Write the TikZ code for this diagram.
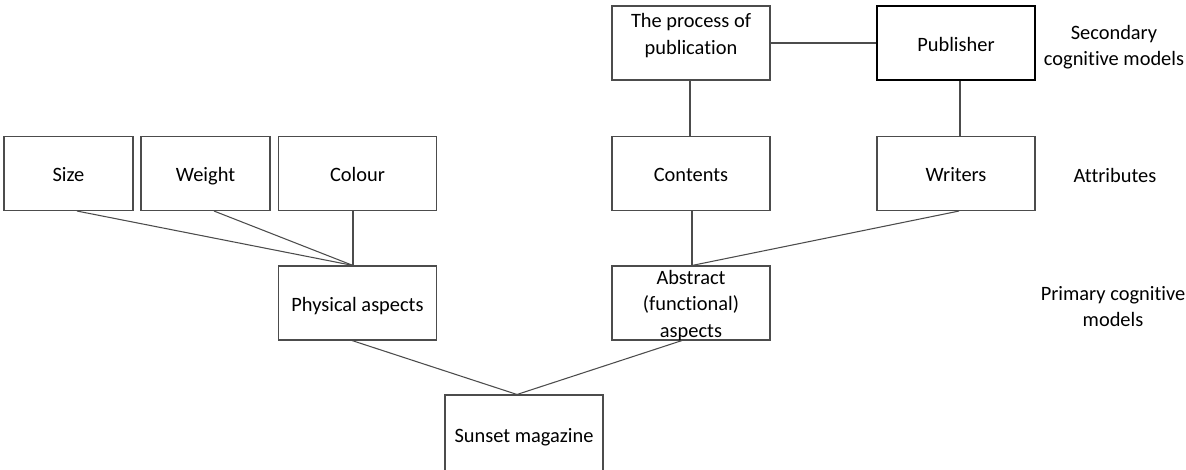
\documentclass[tikz,border=0pt]{standalone}
\usepackage{fontspec}
\setmainfont[Ligatures=NoCommon]{Carlito}
\begin{document}
\begin{tikzpicture}[x=0.75pt,y=-0.75pt,
  box/.style={draw=black!70,line width=0.8pt,rectangle,minimum height=55.5pt,inner sep=0pt,align=center,font=\fontsize{15.3}{19.8}\selectfont},
  one/.style={text height=14.5pt,text depth=2.4pt},
  narrow/.style={box,one,minimum width=96.75pt},
  wide/.style={box,minimum width=118.5pt},
  thick/.style={draw=black,line width=1.6pt},
  txt/.style={align=center,inner sep=0pt,font=\fontsize{15.3}{19.8}\selectfont},
  link/.style={draw=black!70,line width=0.8pt}]
\useasboundingbox (0,0) rectangle (1186,469);
\node[narrow] (size) at (68.5,173.5) {Size};
\node[narrow] (weight) at (205.5,173.5) {Weight};
\node[wide,one] (colour) at (357.5,173.5) {Colour};
\node[wide] (proc) at (691,43) {};
\node[txt] (proctxt) at (691,35.5) {The process of\\publication};
\node[wide,one,thick] (pub) at (956,43) {Publisher};
\node[wide,one] (contents) at (691,173.5) {Contents};
\node[wide,one] (writers) at (956,173.5) {Writers};
\node[wide,one] (phys) at (357.5,303) {Physical aspects};
\node[wide] (abs) at (691,303) {};
\node[txt] (abstxt) at (691,305.5) {Abstract\\(functional)\\aspects};
\node[wide,one,minimum height=58.5pt] (sunset) at (524,434) {Sunset magazine};
\node[txt] (lsec) at (1114,47) {Secondary\\cognitive models};
\node[txt] (lattr) at (1115,175) {Attributes};
\node[txt] (lprim) at (1113,306.5) {Primary cognitive\\models};
\draw[link] ([xshift=6.4pt]size.south) -- ([xshift=-3.4pt]phys.north);
\draw[link] ([xshift=6.4pt]weight.south) -- ([xshift=-3.4pt]phys.north);
\draw[link] ([xshift=-3.4pt]colour.south) -- ([xshift=-3.4pt]phys.north);
\draw[link] ([xshift=-0.75pt]proc.south) -- ([xshift=-0.75pt]contents.north);
\draw[link] (proc.east) -- (pub.west);
\draw[link] ([xshift=3pt]pub.south) -- ([xshift=3pt]writers.north);
\draw[link] ([xshift=0.75pt]contents.south) -- ([xshift=0.75pt]abs.north);
\draw[link] ([xshift=2.25pt]writers.south) -- ([xshift=0.75pt]abs.north);
\draw[link] ([xshift=-4.1pt]phys.south) -- ([xshift=-5.25pt]sunset.north);
\draw[link] ([xshift=-6.75pt]abs.south) -- ([xshift=-5.25pt]sunset.north);
\end{tikzpicture}
\end{document}
